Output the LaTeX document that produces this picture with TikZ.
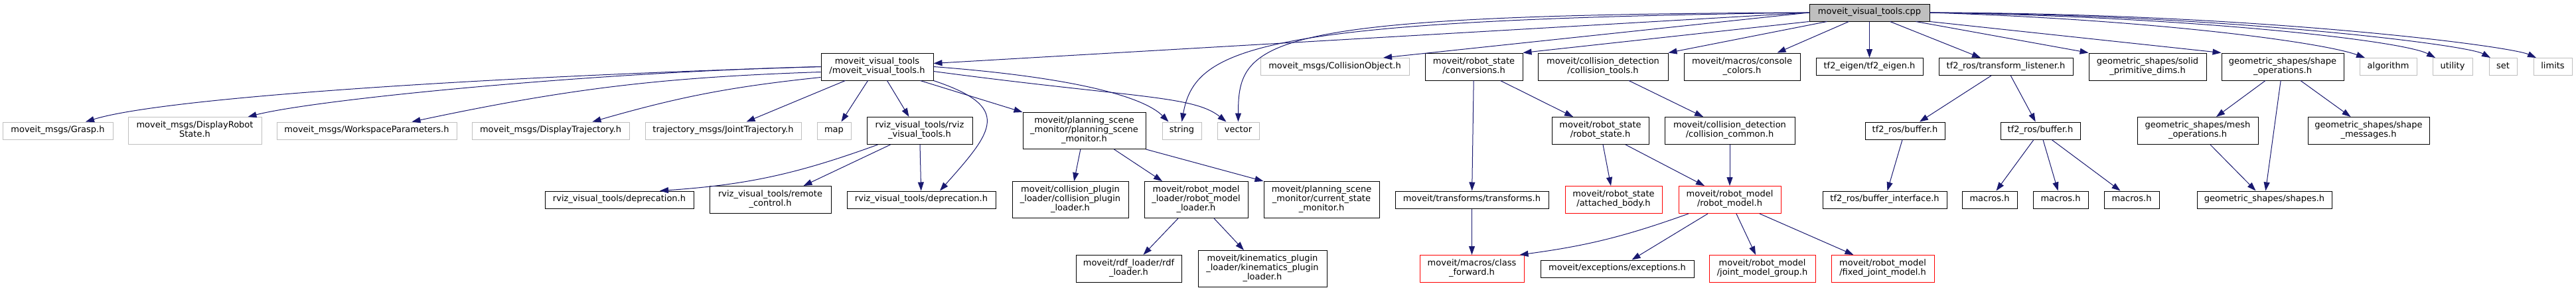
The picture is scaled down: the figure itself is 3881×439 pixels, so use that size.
\documentclass[tikz,border=0pt]{standalone}
\usepackage{fontspec}
\setmainfont{DejaVu Sans}
\usetikzlibrary{arrows.meta}
\definecolor{edgeblue}{HTML}{191970}
\definecolor{greybox}{HTML}{BFBFBF}

\begin{document}
\begin{tikzpicture}[x=1pt,y=-1pt]
\tikzstyle{every node}+=[inner sep=0pt, font=\fontsize{13}{14}\selectfont, execute at begin node=\strut, execute at end node=\strut]
\tikzstyle{hdr}=[draw=black, fill=white, line width=1pt, align=center, minimum height=26]
\tikzstyle{two}=[minimum height=41]
\tikzstyle{three}=[minimum height=55]
\tikzstyle{sys}=[hdr, draw=greybox]
\tikzstyle{cut}=[hdr, draw=red]
\tikzstyle{dep}=[draw=edgeblue, color=edgeblue, line width=1pt, -{Triangle[length=13pt,width=9pt]}]
\useasboundingbox (0,0) rectangle (3881,439);
% the source file
\node[hdr, fill=greybox, minimum width=181] (cpp) at (2816.5,19) {moveit\_visual\_tools.cpp};
% first level
\node[hdr, two, minimum width=169] (mvt) at (1321.5,100.5) {moveit\_visual\_tools\\/moveit\_visual\_tools.h};
\node[sys, minimum width=224] (colobj) at (2011,100.5) {moveit\_msgs/CollisionObject.h};
\node[hdr, two, minimum width=147] (conv) at (2220.5,100.5) {moveit/robot\_state\\/conversions.h};
\node[hdr, two, minimum width=196] (coltools) at (2415,100.5) {moveit/collision\_detection\\/collision\_tools.h};
\node[hdr, two, minimum width=175] (console) at (2624.5,100.5) {moveit/macros/console\\\_colors.h};
\node[hdr, minimum width=161] (tfeigen) at (2816.5,100.5) {tf2\_eigen/tf2\_eigen.h};
\node[hdr, minimum width=202] (tflisten) at (3022,100.5) {tf2\_ros/transform\_listener.h};
\node[hdr, two, minimum width=177] (soliddims) at (3235.5,100.5) {geometric\_shapes/solid\\\_primitive\_dims.h};
\node[hdr, two, minimum width=184] (shapeops) at (3439,100.5) {geometric\_shapes/shape\\\_operations.h};
\node[sys, minimum width=86] (stdalgorithm) at (3598,100.5) {algorithm};
\node[sys, minimum width=60] (stdutility) at (3695,100.5) {utility};
\node[sys, minimum width=42] (stdset) at (3771,100.5) {set};
\node[sys, minimum width=58] (stdlimits) at (3846,100.5) {limits};
% second level
\node[sys, minimum width=166] (grasp) at (87,197) {moveit\_msgs/Grasp.h};
\node[sys, two, minimum width=201] (drs) at (293.5,197) {moveit\_msgs/DisplayRobot\\State.h};
\node[sys, minimum width=271] (wsp) at (552.5,197) {moveit\_msgs/WorkspaceParameters.h};
\node[sys, minimum width=237] (dtraj) at (829.5,197) {moveit\_msgs/DisplayTrajectory.h};
\node[sys, minimum width=235] (jtraj) at (1089.5,197) {trajectory\_msgs/JointTrajectory.h};
\node[sys, minimum width=51] (stdmap) at (1256.5,197) {map};
\node[hdr, two, minimum width=159] (rvt) at (1385.5,197) {rviz\_visual\_tools/rviz\\\_visual\_tools.h};
\node[hdr, three, minimum width=185] (psm) at (1633.5,197) {moveit/planning\_scene\\\_monitor/planning\_scene\\\_monitor.h};
\node[sys, minimum width=59] (stdstring) at (1780.5,197) {string};
\node[sys, minimum width=63] (stdvector) at (1865.5,197) {vector};
\node[hdr, two, minimum width=146] (rstate) at (2411,197) {moveit/robot\_state\\/robot\_state.h};
\node[hdr, two, minimum width=196] (colcommon) at (2606,197) {moveit/collision\_detection\\/collision\_common.h};
\node[hdr, minimum width=120] (bufa) at (2870,197) {tf2\_ros/buffer.h};
\node[hdr, minimum width=120] (bufb) at (3074,197) {tf2\_ros/buffer.h};
\node[hdr, two, minimum width=182] (meshops) at (3311,197) {geometric\_shapes/mesh\\\_operations.h};
\node[hdr, two, minimum width=183] (shapemsg) at (3568.5,197) {geometric\_shapes/shape\\\_messages.h};
% third level
\node[hdr, minimum width=224] (depra) at (933,301) {rviz\_visual\_tools/deprecation.h};
\node[hdr, two, minimum width=183] (remote) at (1160.5,301) {rviz\_visual\_tools/remote\\\_control.h};
\node[hdr, minimum width=224] (deprb) at (1388,301) {rviz\_visual\_tools/deprecation.h};
\node[hdr, three, minimum width=175] (colplug) at (1612.5,301) {moveit/collision\_plugin\\\_loader/collision\_plugin\\\_loader.h};
\node[hdr, three, minimum width=156] (rml) at (1802,301) {moveit/robot\_model\\\_loader/robot\_model\\\_loader.h};
\node[hdr, three, minimum width=174] (csm) at (1991,301) {moveit/planning\_scene\\\_monitor/current\_state\\\_monitor.h};
\node[hdr, minimum width=231] (transforms) at (2217.5,301) {moveit/transforms/transforms.h};
\node[cut, two, minimum width=146] (attached) at (2431,301) {moveit/robot\_state\\/attached\_body.h};
\node[cut, two, minimum width=154] (rmodel) at (2606,301) {moveit/robot\_model\\/robot\_model.h};
\node[hdr, minimum width=187] (bufiface) at (2839.5,301) {tf2\_ros/buffer\_interface.h};
\node[hdr, minimum width=83] (macrosa) at (2997.5,301) {macros.h};
\node[hdr, minimum width=83] (macrosb) at (3104.5,301) {macros.h};
\node[hdr, minimum width=83] (macrosc) at (3211.5,301) {macros.h};
\node[hdr, minimum width=203] (shapes) at (3411.5,301) {geometric\_shapes/shapes.h};
% fourth level
\node[hdr, two, minimum width=159] (rdf) at (1700.5,405) {moveit/rdf\_loader/rdf\\\_loader.h};
\node[hdr, three, minimum width=194] (kin) at (1902,405) {moveit/kinematics\_plugin\\\_loader/kinematics\_plugin\\\_loader.h};
\node[cut, two, minimum width=157] (classfwd) at (2217.5,405) {moveit/macros/class\\\_forward.h};
\node[hdr, minimum width=231] (exceptions) at (2436.5,405) {moveit/exceptions/exceptions.h};
\node[cut, two, minimum width=160] (jmg) at (2655,405) {moveit/robot\_model\\/joint\_model\_group.h};
\node[cut, two, minimum width=155] (fjm) at (2836.5,405) {moveit/robot\_model\\/fixed\_joint\_model.h};
% includes of the .cpp
\draw[dep] (cpp.west) -- ([yshift=5]mvt.east);
\draw[dep] (cpp.west) .. controls +(-826,11) and +(20,-114) .. (stdstring.north);
\draw[dep] (cpp.west) .. controls +(-826,3) and +(0,-124) .. (stdvector.north);
\draw[dep] (cpp.west) -- ([xshift=73]colobj.north);
\draw[dep] (cpp.south west) -- (conv.north east);
\draw[dep] ([xshift=-64]cpp.south) -- (coltools.north east);
\draw[dep] ([xshift=-31]cpp.south) -- ([xshift=53]console.north);
\draw[dep] (cpp) -- (tfeigen);
\draw[dep] ([xshift=31]cpp.south) -- ([xshift=-38]tflisten.north);
\draw[dep] ([xshift=70]cpp.south) -- (soliddims.north west);
\draw[dep] (cpp.south east) -- (shapeops.north west);
\draw[dep] (cpp.east) .. controls +(343,11) and +(-63,-23) .. ([xshift=-35]stdalgorithm.north);
\draw[dep] (cpp.east) .. controls +(393,6) and +(-49,-26) .. ([xshift=-26]stdutility.north);
\draw[dep] (cpp.east) .. controls +(443,3) and +(-37,-20) .. ([xshift=-19]stdset.north);
\draw[dep] (cpp.east) .. controls +(493,1) and +(-41,-18) .. ([xshift=-25]stdlimits.north);
% includes of moveit_visual_tools.h
\draw[dep] (mvt.west) .. controls +(-500,15) and +(120,-37) .. ([xshift=42]grasp.north);
\draw[dep] (mvt.west) .. controls +(-337,8) and +(107,-27) .. ([xshift=80]drs.north);
\draw[dep] ([yshift=-8]mvt.west) to[bend right=5] ([xshift=68]wsp.north);
\draw[dep] ([yshift=-16]mvt.west) to[bend right=5] ([xshift=63]dtraj.north);
\draw[dep] ([xshift=-48]mvt.south) -- ([xshift=35]jtraj.north);
\draw[dep] ([xshift=-14]mvt.south) -- ([xshift=11]stdmap.north);
\draw[dep] ([xshift=15]mvt.south) -- ([xshift=-16]rvt.north);
\draw[dep] (mvt.south east) .. controls +(120,40) and +(80,-90) .. ([xshift=28]deprb.north);
\draw[dep] ([xshift=65]mvt.south) -- (psm.north west);
\draw[dep] (mvt.east) .. controls +(200,15) and +(-40,-40) .. ([xshift=-20]stdstring.north);
\draw[dep] ([yshift=-7]mvt.east) .. controls +(300,40) and +(-50,-40) .. ([xshift=-18]stdvector.north);
% deeper levels
\draw[dep] ([xshift=-63]rvt.south) to[bend left=8] ([xshift=61]depra.north);
\draw[dep] ([xshift=-44]rvt.south) -- ([xshift=50]remote.north);
\draw[dep] (rvt) -- (deprb);
\draw[dep] (psm) -- (colplug);
\draw[dep] ([xshift=45]psm.south) -- ([xshift=-51]rml.north);
\draw[dep] (psm.south east) -- (csm.north west);
\draw[dep] ([xshift=-27]rml.south) -- ([xshift=22]rdf.north);
\draw[dep] ([xshift=27]rml.south) -- ([xshift=-28]kin.north);
\draw[dep] (conv) -- (transforms);
\draw[dep] ([xshift=40]conv.south) -- ([xshift=-41]rstate.north);
\draw[dep] ([xshift=39]coltools.south) -- ([xshift=-40]colcommon.north);
\draw[dep] (rstate) -- (attached);
\draw[dep] ([xshift=38]rstate.south) -- ([xshift=-38]rmodel.north);
\draw[dep] (colcommon) -- (rmodel);
\draw[dep] (transforms) -- (classfwd);
\draw[dep] ([xshift=-62]rmodel.south) to[bend left=6] ([xshift=72]classfwd.north);
\draw[dep] ([xshift=-33]rmodel.south) -- ([xshift=22]exceptions.north);
\draw[dep] (rmodel) -- (jmg);
\draw[dep] ([xshift=45]rmodel.south) -- ([xshift=-44]fjm.north);
\draw[dep] ([xshift=-22]tflisten.south) -- ([xshift=22]bufa.north);
\draw[dep] (tflisten) -- (bufb);
\draw[dep] (bufa) -- (bufiface);
\draw[dep] ([xshift=-10]bufb.south) -- ([xshift=10]macrosa.north);
\draw[dep] (bufb) -- (macrosb);
\draw[dep] ([xshift=17]bufb.south) -- ([xshift=-17]macrosc.north);
\draw[dep] ([xshift=-26]shapeops.south) -- ([xshift=28]meshops.north);
\draw[dep] (shapeops) -- (shapes);
\draw[dep] ([xshift=27]shapeops.south) -- ([xshift=-27]shapemsg.north);
\draw[dep] ([xshift=19]meshops.south) -- ([xshift=-13]shapes.north);
\end{tikzpicture}
\end{document}
